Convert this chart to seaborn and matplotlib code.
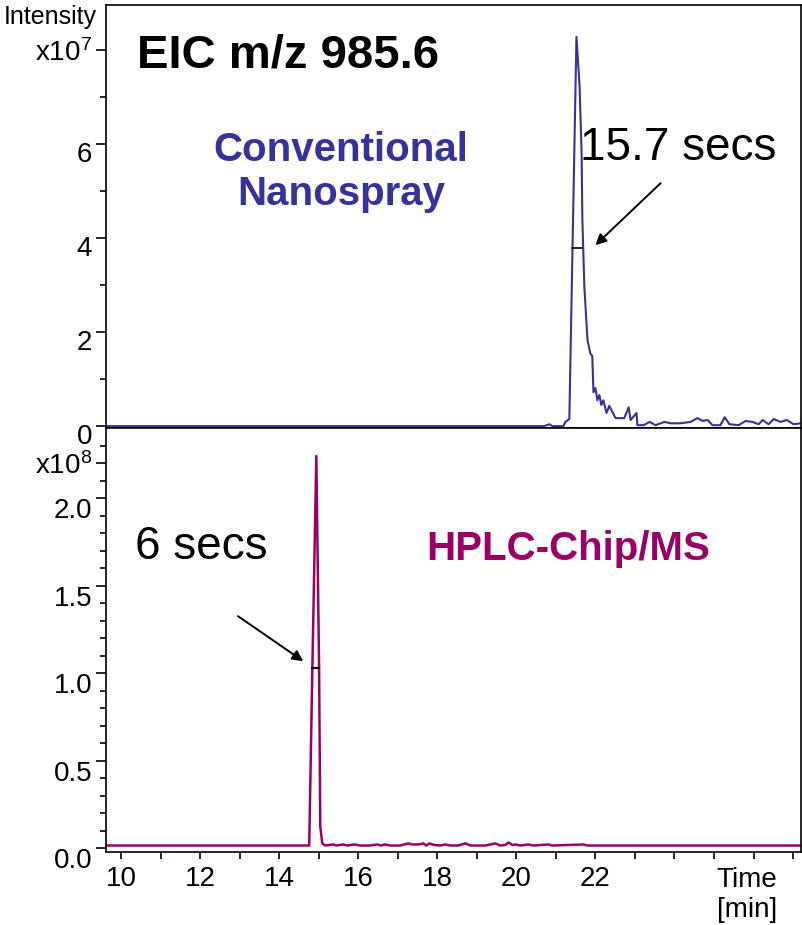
import matplotlib
matplotlib.use("Agg")
import matplotlib.pyplot as plt
import matplotlib.transforms as mtransforms
import seaborn as sns
import pandas as pd

# ---------------- data ----------------
# Top: conventional nanospray EIC (time in min, intensity in 1e7 counts)
conv_time = [9.60, 20.70, 20.84, 20.91, 21.19, 21.24, 21.34, 21.52, 21.60, 21.65,
             21.67, 21.72, 21.80, 21.87, 21.92, 21.95, 22.00, 22.05, 22.10, 22.15,
             22.20, 22.28, 22.35, 22.43, 22.51, 22.61, 22.73, 22.84, 22.89, 23.04,
             23.06, 23.22, 23.37, 23.52, 23.75, 23.90, 24.15, 24.41, 24.58, 24.71,
             24.84, 24.96, 25.16, 25.27, 25.39, 25.62, 25.80, 25.97, 26.13, 26.23,
             26.38, 26.51, 26.68, 26.84, 27.01, 27.19]
conv_int = [0.00, 0.00, 0.04, 0.00, 0.00, 0.09, 0.15, 8.28, 7.23, 5.81,
            4.38, 2.96, 1.83, 1.55, 1.49, 0.72, 0.81, 0.55, 0.66, 0.45,
            0.55, 0.28, 0.43, 0.30, 0.17, 0.17, 0.17, 0.40, 0.13, 0.28,
            0.02, 0.02, 0.09, 0.02, 0.09, 0.06, 0.06, 0.09, 0.17, 0.11,
            0.13, 0.02, 0.02, 0.19, 0.04, 0.02, 0.11, 0.09, 0.04, 0.13,
            0.04, 0.15, 0.09, 0.13, 0.04, 0.06]

# Bottom: HPLC-Chip/MS EIC (time in min, intensity in 1e8 counts)
chip_time = [9.60, 14.76, 14.84, 14.94, 15.01, 15.04, 15.09, 15.16, 15.27, 15.37,
             15.44, 15.62, 15.72, 15.90, 16.05, 16.30, 16.48, 16.58, 16.66, 16.81,
             17.06, 17.27, 17.37, 17.52, 17.65, 17.72, 17.80, 17.92, 18.08, 18.20,
             18.33, 18.53, 18.71, 18.84, 19.22, 19.47, 19.59, 19.72, 19.80, 19.90,
             19.97, 20.10, 20.30, 20.43, 20.81, 20.91, 21.70, 21.80, 27.19]
chip_int = [0.017, 0.017, 1.03, 2.24, 1.03, 0.126, 0.030, 0.017, 0.020, 0.023,
            0.017, 0.023, 0.017, 0.023, 0.017, 0.017, 0.023, 0.017, 0.023, 0.017,
            0.017, 0.029, 0.023, 0.023, 0.029, 0.017, 0.029, 0.020, 0.017, 0.023,
            0.017, 0.017, 0.029, 0.017, 0.017, 0.029, 0.017, 0.020, 0.034, 0.020,
            0.023, 0.017, 0.023, 0.017, 0.023, 0.017, 0.023, 0.017, 0.017]

# peak-width markers (start time, end time, intensity)
conv_fwhm = [21.40, 21.66, 3.79]
chip_fwhm = [14.84, 15.00, 1.03]

x_ticks = [10, 11, 12, 13, 14, 15, 16, 17, 18, 19, 20, 21, 22, 23, 24, 25, 26, 27]
x_tick_labels = ['10', '', '12', '', '14', '', '16', '', '18', '', '20', '', '22',
                 '', '', '', '', '']
top_major = [0, 2, 4, 6, 8]
top_major_labels = ['0', '2', '4', '6', r'x10$^{7}$']
top_minor = [1, 3, 5, 7]
bot_major = [0.0, 0.5, 1.0, 1.5, 2.0, 2.2]
bot_major_labels = ['0.0', '0.5', '1.0', '1.5', '2.0', r'x10$^{8}$']
bot_minor = [0.1, 0.2, 0.3, 0.4, 0.6, 0.7, 0.8, 0.9, 1.1, 1.2, 1.3, 1.4,
             1.6, 1.7, 1.8, 1.9, 2.1, 2.3]

BLUE = '#333399'
MAGENTA = '#990066'

# ---------------- style ----------------
sns.set_theme(style='white')
plt.rcParams['font.family'] = ['Liberation Sans', 'DejaVu Sans']
plt.rcParams['mathtext.fontset'] = 'custom'
plt.rcParams['mathtext.rm'] = 'Liberation Sans'
plt.rcParams['mathtext.it'] = 'Liberation Sans:italic'
plt.rcParams['mathtext.bf'] = 'Liberation Sans:bold'

fig = plt.figure(figsize=(8.02, 9.25), dpi=100)
W, H = 802, 925
ax1 = fig.add_axes([106 / W, 1 - 428 / H, 695 / W, 423 / H])
ax2 = fig.add_axes([106 / W, 1 - 852 / H, 695 / W, 424 / H])

df1 = pd.DataFrame({'t': conv_time, 'i': conv_int})
df2 = pd.DataFrame({'t': chip_time, 'i': chip_int})
sns.lineplot(data=df1, x='t', y='i', ax=ax1, color=BLUE, linewidth=1.5, sort=False)
sns.lineplot(data=df2, x='t', y='i', ax=ax2, color=MAGENTA, linewidth=1.8, sort=False)

xlim = (9.62, 27.2)
for ax in (ax1, ax2):
    ax.set_xlim(*xlim)
    ax.set_xlabel('')
    ax.set_ylabel('')
    for s in ax.spines.values():
        s.set_color('black')
        s.set_linewidth(1.2)
        s.set_visible(True)
    ax.set_facecolor('white')

ax1.set_ylim(-0.04, 8.96)
ax2.set_ylim(-0.02, 2.40)

# y ticks
ax1.set_yticks(top_major)
ax1.set_yticklabels(top_major_labels)
ax1.set_yticks(top_minor, minor=True)
ax2.set_yticks(bot_major)
ax2.set_yticklabels(bot_major_labels)
ax2.set_yticks(bot_minor, minor=True)

ax1.set_xticks([])
ax2.set_xticks(x_ticks)
ax2.set_xticklabels(x_tick_labels)

for ax in (ax1, ax2):
    ax.tick_params(axis='y', which='major', direction='out', length=7, width=1.2,
                   color='black', labelsize=20, pad=3, left=True, labelcolor='black')
    ax.tick_params(axis='y', which='minor', direction='out', length=4, width=1.2,
                   color='black', left=True)
ax2.tick_params(axis='x', which='major', direction='out', length=5, width=1.2,
                color='black', labelsize=20, pad=5, bottom=True, labelcolor='black')

# shift numeric y labels below their ticks, like the original
for ax, dy in ((ax1, -8), (ax2, -10)):
    labs = ax.get_yticklabels()
    for lab in labs[:-1]:
        off = mtransforms.ScaledTranslation(0, dy / 100, fig.dpi_scale_trans)
        lab.set_transform(lab.get_transform() + off)

# peak width bars
ax1.plot(conv_fwhm[:2], [conv_fwhm[2]] * 2, color='black', linewidth=1.2)
ax2.plot(chip_fwhm[:2], [chip_fwhm[2]] * 2, color='black', linewidth=1.6)

# annotations
ax1.text(10.41, 7.89, 'EIC m/z 985.6', fontsize=34, fontweight='bold',
         color='black', ha='left', va='center')
ax1.text(15.57, 5.40, 'Conventional\nNanospray', fontsize=29, fontweight='bold',
         color=BLUE, ha='center', va='center', linespacing=1.2)
ax1.text(21.62, 5.91, '15.7 secs', fontsize=33, color='black', ha='left', va='center')
ax1.annotate('', xy=(22.0, 3.85), xytext=(23.65, 5.17),
             arrowprops=dict(arrowstyle='-|>', color='black', lw=1.4, mutation_scale=16,
                             shrinkA=0, shrinkB=0))

ax2.text(10.35, 1.72, '6 secs', fontsize=33, color='black', ha='left', va='center')
ax2.text(21.32, 1.71, 'HPLC-Chip/MS', fontsize=29, fontweight='bold',
         color=MAGENTA, ha='center', va='center')
ax2.annotate('', xy=(14.61, 1.069), xytext=(12.96, 1.326),
             arrowprops=dict(arrowstyle='-|>', color='black', lw=1.4, mutation_scale=16,
                             shrinkA=0, shrinkB=0))

fig.text(4 / W, 1 - 17 / H, 'Intensity', fontsize=18, ha='left', va='center', color='black')
fig.text(747 / W, 1 - 880 / H, 'Time', fontsize=20, ha='center', va='center', color='black')
fig.text(747 / W, 1 - 910 / H, '[min]', fontsize=20, ha='center', va='center', color='black')

fig.savefig('out.png', dpi=100, facecolor='white')
